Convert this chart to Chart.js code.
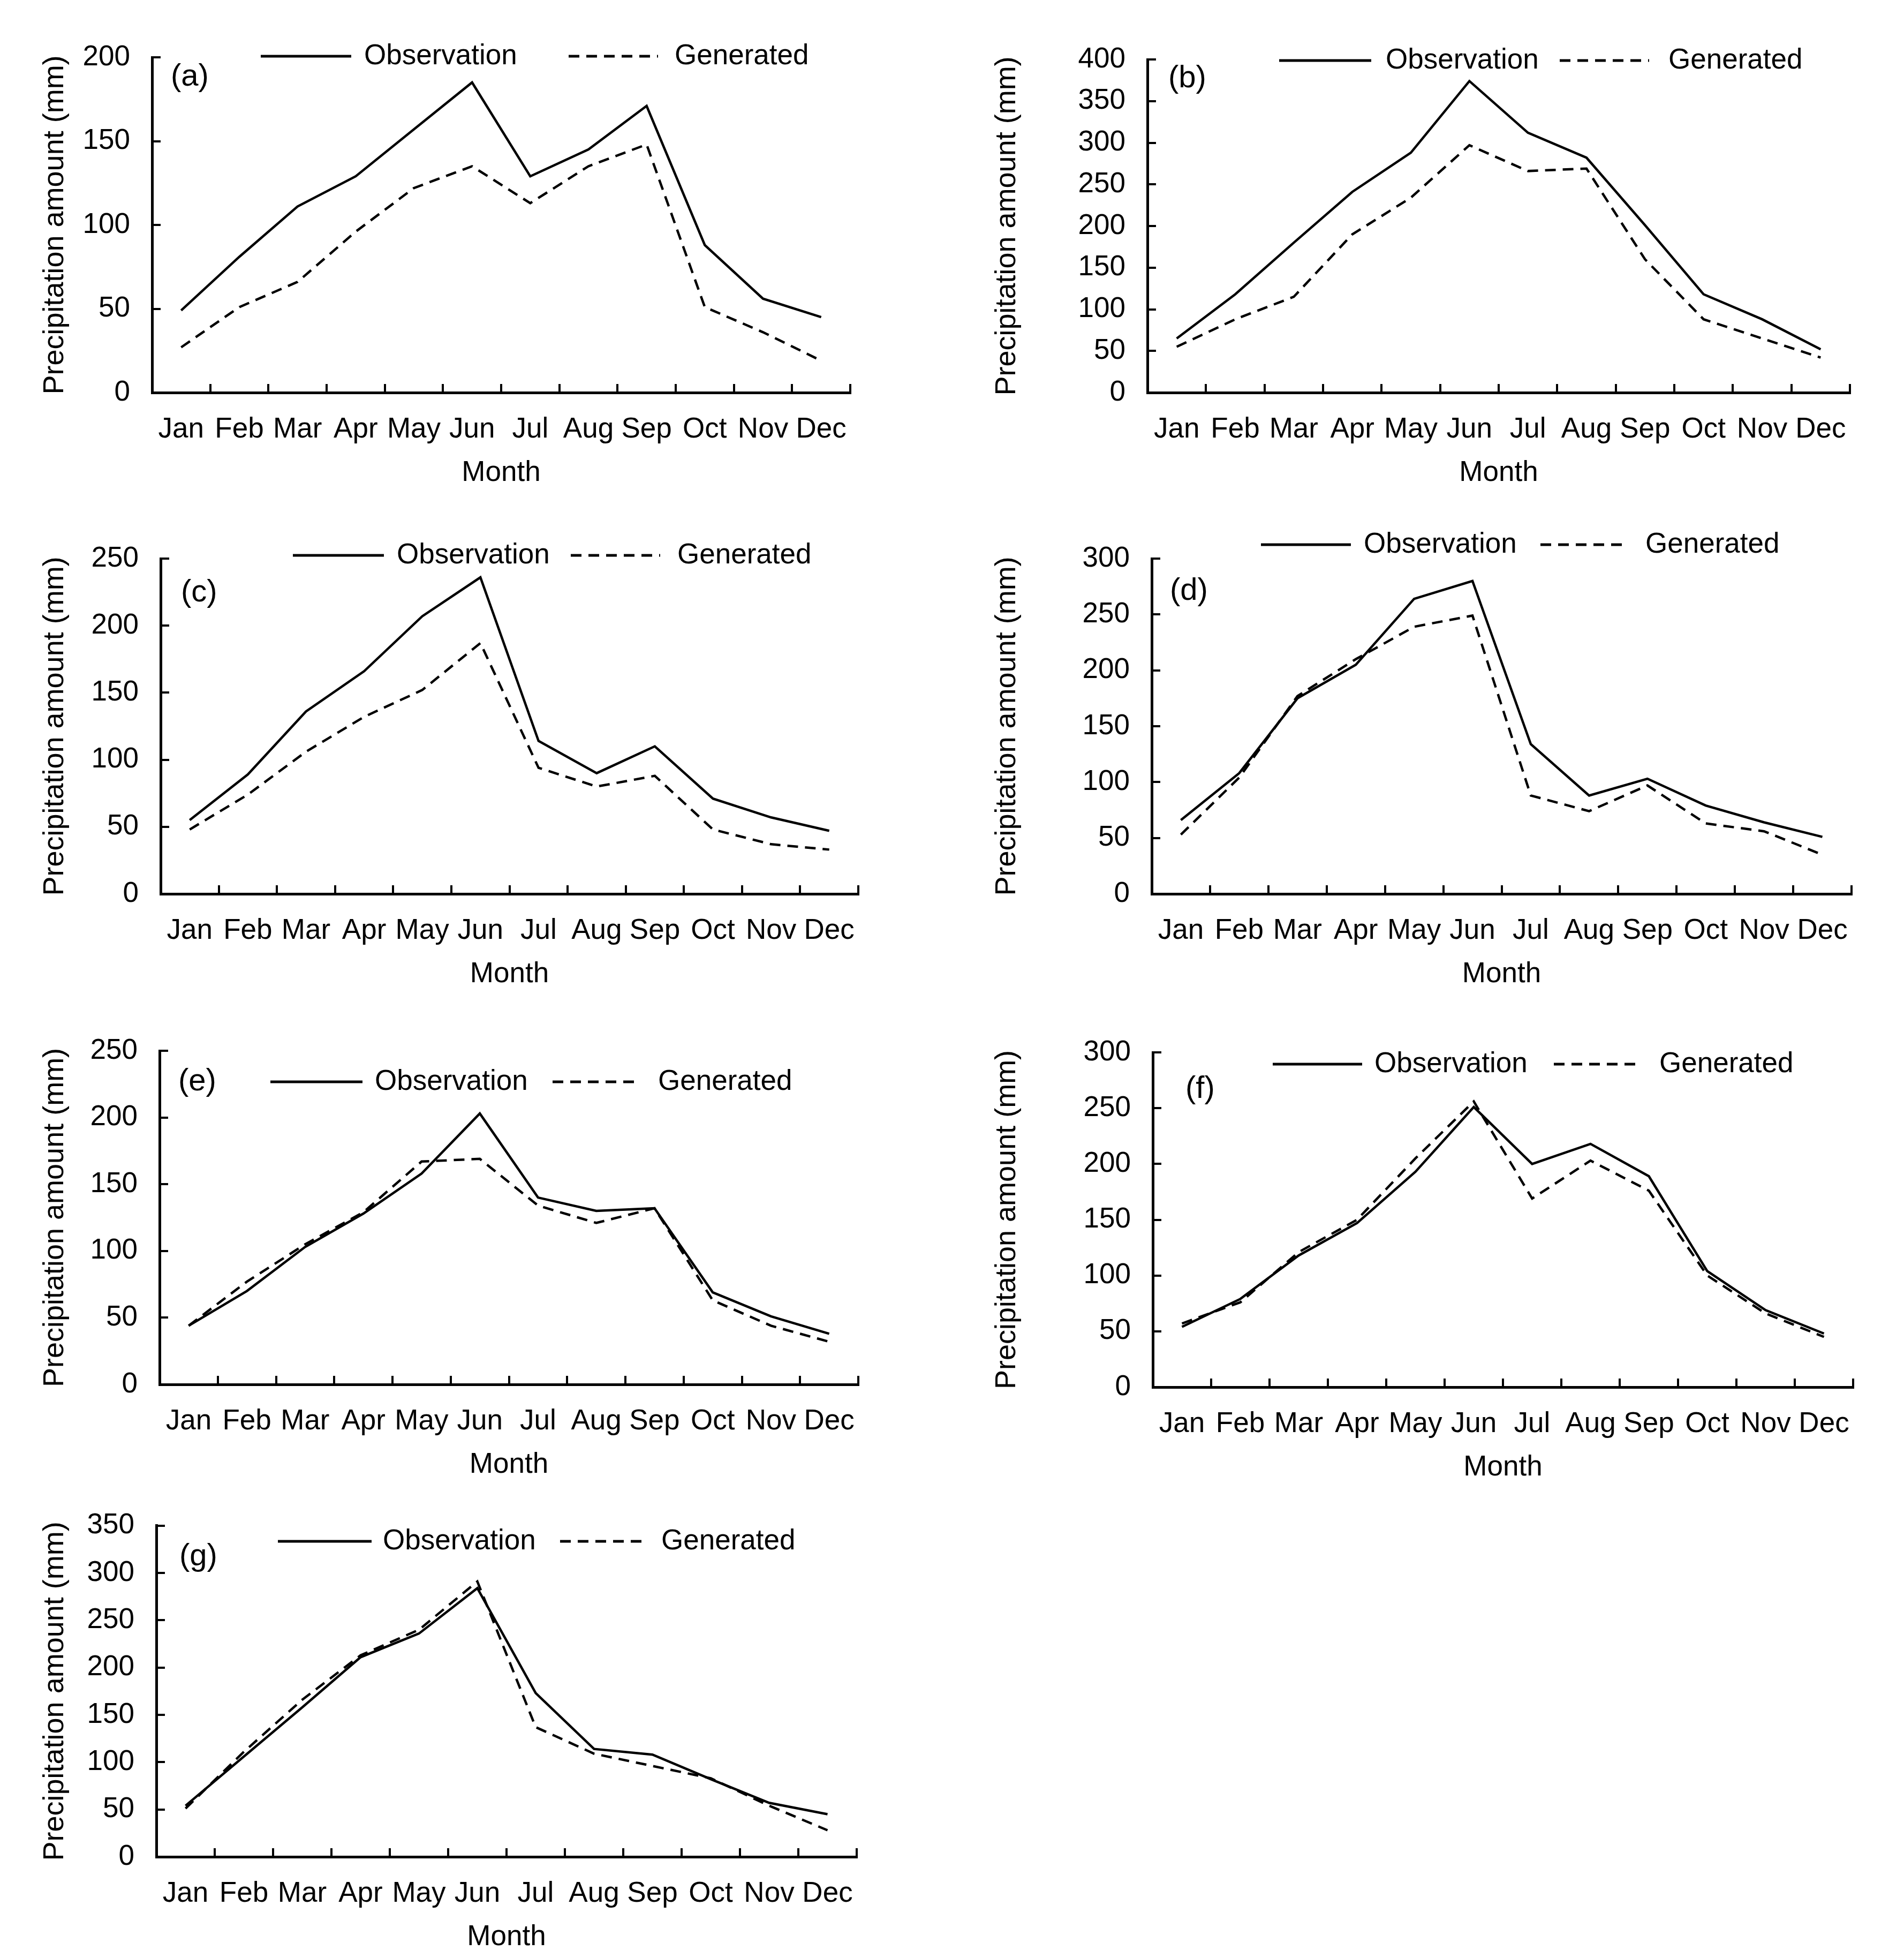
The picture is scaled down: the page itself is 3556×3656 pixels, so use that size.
<!DOCTYPE html>
<html><head><meta charset="utf-8">
<script src="https://cdn.jsdelivr.net/npm/chart.js@4.4.0/dist/chart.umd.min.js"></script>
<style>
html,body{margin:0;padding:0;background:#fff;}
body{width:3556px;height:3656px;position:relative;overflow:hidden;}
canvas{position:absolute;}
</style></head><body>
<canvas id="ca"></canvas><canvas id="cb"></canvas><canvas id="cc"></canvas><canvas id="cd"></canvas>
<canvas id="ce"></canvas><canvas id="cf"></canvas><canvas id="cg"></canvas>
<script>
// ---- data ----
const months = ['Jan','Feb','Mar','Apr','May','Jun','Jul','Aug','Sep','Oct','Nov','Dec'];
const seriesNames = ['Observation','Generated'];
const yTitle = 'Precipitation amount (mm)';
const xTitle = 'Month';

const obsA = [49, 81, 111, 129, 157, 185, 129, 145, 171, 88, 56, 45];
const genA = [27, 51, 66, 96, 122, 135, 113, 135, 148, 51, 36, 19];
const obsB = [65, 118, 180, 241, 288, 374, 312, 282, 201, 118, 88, 52];
const genB = [55, 88, 115, 190, 234, 297, 266, 269, 160, 88, 65, 42];
const obsC = [55, 89, 136, 166, 207, 236, 114, 90, 110, 71, 57, 47];
const genC = [48, 74, 106, 132, 152, 187, 94, 80, 88, 48, 37, 33];
const obsD = [66, 108, 175, 205, 264, 280, 134, 88, 103, 79, 64, 51];
const genD = [53, 104, 177, 210, 239, 249, 88, 74, 97, 63, 56, 35];
const obsE = [44, 70, 103, 128, 158, 203, 140, 130, 132, 69, 51, 38];
const genE = [44, 77, 105, 129, 167, 169, 134, 121, 132, 63, 44, 32];
const obsF = [54, 79, 118, 147, 193, 251, 200, 218, 189, 104, 69, 48];
const genF = [57, 76, 121, 150, 205, 256, 169, 203, 176, 100, 66, 45];
const obsG = [54, 106, 158, 211, 236, 284, 173, 114, 108, 82, 57, 45];
const genG = [51, 111, 166, 213, 240, 291, 137, 109, 96, 83, 54, 28];

const yMaxes = [200, 400, 250, 300, 250, 300, 350];
const yStep = 50;
const panelTags = ['(a)','(b)','(c)','(d)','(e)','(f)','(g)'];

// ---- layout (positions only) ----
const FONT = '"Liberation Sans", Arial, Helvetica, sans-serif';
const XH = 182;
const layouts = [
  {id:'ca', box:[0,0,1778,930],     plot:[284,1588,107,733],   leg:{y:105,  s:[487,656],   st:680,  d:[1062,1229], dt:1260}, lab:[319,144]},
  {id:'cb', box:[1778,0,1778,930],  plot:[2143,3455,111,733],  leg:{y:113,  s:[2389,2561], st:2588, d:[2913,3080], dt:3116}, lab:[2182,147]},
  {id:'cc', box:[0,930,1778,930],   plot:[300,1603,1043,1669], leg:{y:1037, s:[547,717],   st:741,  d:[1066,1233], dt:1265}, lab:[338,1107]},
  {id:'cd', box:[1778,930,1778,930],plot:[2151,3458,1043,1669],leg:{y:1017, s:[2355,2523], st:2547, d:[2877,3039], dt:3073}, lab:[2185,1104]},
  {id:'ce', box:[0,1860,1778,900],  plot:[298,1603,1962,2585], leg:{y:2020, s:[505,677],   st:700,  d:[1032,1193], dt:1229}, lab:[333,2020]},
  {id:'cf', box:[1778,1860,1778,900],plot:[2153,3461,1965,2590],leg:{y:1987,s:[2377,2544], st:2567, d:[2902,3062], dt:3099}, lab:[2214,2034]},
  {id:'cg', box:[0,2760,1778,896],  plot:[292,1600,2842,3467], leg:{y:2878, s:[519,694],   st:715,  d:[1046,1204], dt:1235}, lab:[335,2907]}
];
const dataSets = [[obsA,genA],[obsB,genB],[obsC,genC],[obsD,genD],[obsE,genE],[obsF,genF],[obsG,genG]];

const legendPlugin = {
  id: 'panelLegend',
  afterDraw(chart, args, opts) {
    const ctx = chart.ctx;
    const ox = opts.ox, oy = opts.oy, L = opts.leg;
    ctx.save();
    ctx.fillStyle = '#000';
    ctx.textBaseline = 'middle';
    ctx.textAlign = 'left';
    ctx.font = '53px ' + FONT;
    const items = [{x1:L.s[0], x2:L.s[1], tx:L.st}, {x1:L.d[0], x2:L.d[1], tx:L.dt}];
    chart.data.datasets.forEach((ds, i) => {
      const it = items[i];
      ctx.beginPath();
      ctx.setLineDash(ds.borderDash || []);
      ctx.lineWidth = 5;
      ctx.strokeStyle = ds.borderColor;
      ctx.moveTo(it.x1 - ox, L.y - oy);
      ctx.lineTo(it.x2 - ox, L.y - oy);
      ctx.stroke();
      ctx.setLineDash([]);
      ctx.fillText(ds.label, it.tx - ox, L.y - oy);
    });
    ctx.font = '58px ' + FONT;
    ctx.fillText(opts.tag, opts.lab[0] - ox, opts.lab[1] - oy);
    ctx.restore();
  }
};

layouts.forEach((p, k) => {
  const cv = document.getElementById(p.id);
  const [bx, by, bw, bh] = p.box;
  const [pl, pr, pt, pb] = p.plot;
  cv.width = bw; cv.height = bh;
  cv.style.left = bx + 'px'; cv.style.top = by + 'px';
  cv.style.width = bw + 'px'; cv.style.height = bh + 'px';
  const yW = pl - bx;
  new Chart(cv, {
    type: 'line',
    data: {
      labels: months,
      datasets: [
        {label: seriesNames[0], data: dataSets[k][0], borderColor: '#000', borderWidth: 4.5, pointRadius: 0, tension: 0, fill: false},
        {label: seriesNames[1], data: dataSets[k][1], borderColor: '#000', borderWidth: 4.5, borderDash: [20, 13], pointRadius: 0, tension: 0, fill: false}
      ]
    },
    plugins: [legendPlugin],
    options: {
      responsive: false,
      devicePixelRatio: 1,
      animation: false,
      layout: {padding: {left: 0, top: pt - by, right: (bx + bw) - pr, bottom: (by + bh) - pb - XH}},
      plugins: {
        legend: {display: false},
        tooltip: {enabled: false},
        panelLegend: {ox: bx, oy: by, leg: p.leg, lab: p.lab, tag: panelTags[k]}
      },
      scales: {
        x: {
          type: 'category',
          offset: true,
          grid: {display: true, drawOnChartArea: false, drawTicks: true, tickLength: -16, offset: true, color: '#000', lineWidth: 4},
          border: {display: true, color: '#000', width: 5},
          ticks: {color: '#000', font: {family: FONT, size: 53}, padding: 54, maxRotation: 0, autoSkip: false},
          title: {display: true, text: xTitle, color: '#000', font: {family: FONT, size: 53}, padding: {top: 0, bottom: 0}},
          afterFit(s) { s.height = XH; }
        },
        y: {
          min: 0, max: yMaxes[k],
          grid: {display: true, drawOnChartArea: false, drawTicks: true, tickLength: -16, color: '#000', lineWidth: 4},
          border: {display: true, color: '#000', width: 5},
          ticks: {stepSize: yStep, color: '#000', font: {family: FONT, size: 53}, padding: 57},
          title: {display: true, text: yTitle, color: '#000', font: {family: FONT, size: 54}, padding: {top: 71, bottom: 0}},
          afterFit(s) { s.width = yW; }
        }
      }
    }
  });
});
</script>
</body></html>
